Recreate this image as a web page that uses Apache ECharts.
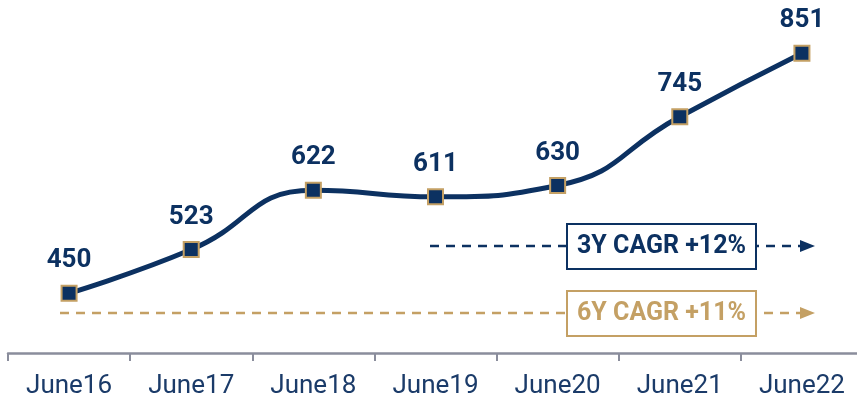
<!DOCTYPE html>
<html>
<head>
<meta charset="utf-8">
<script src="https://cdn.jsdelivr.net/npm/echarts@6/dist/echarts.min.js"></script>
<style>
  html, body { margin: 0; padding: 0; background: #fff; overflow: hidden; }
  #chart { width: 870px; height: 400px; }
</style>
</head>
<body>
<div id="chart"></div>
<script>
// data
const categories = ['June16', 'June17', 'June18', 'June19', 'June20', 'June21', 'June22']
const values = [450, 523, 622, 611, 630, 745, 851]
const cagrLabels = ['3Y CAGR +12%', '6Y CAGR +11%']

const navy = '#0c3161'
const gold = '#c4a064'

// chart is a little wider than the window, the last category runs off the edge
const chart = echarts.init(document.getElementById('chart'))

// dashed arrow with a boxed label on top of it
function cagrArrow(x1, x2, y, boxX, text, color) {
  return [
    {
      type: 'line',
      shape: { x1: x1, y1: y, x2: x2 - 14, y2: y },
      style: { stroke: color, lineWidth: 2.5, lineDash: [9, 7] },
      z: 10
    },
    {
      type: 'polygon',
      shape: { points: [[x2 - 15, y - 6], [x2, y], [x2 - 15, y + 6]] },
      style: { fill: color },
      z: 10
    },
    {
      type: 'rect',
      shape: { x: boxX, y: y - 22, width: 189, height: 45 },
      style: { fill: '#fff', stroke: color, lineWidth: 2 },
      z: 11
    },
    {
      type: 'text',
      x: boxX + 94.5,
      y: y + 1,
      style: {
        text: text,
        fill: color,
        font: 'bold 25px Roboto',
        align: 'center',
        verticalAlign: 'middle'
      },
      z: 12
    }
  ]
}

const option = {
  animation: false,
  grid: { left: 8, right: 7, top: 24, bottom: 47, containLabel: false },
  xAxis: {
    type: 'category',
    data: categories,
    boundaryGap: true,
    axisLine: { lineStyle: { color: '#8a8d9c', width: 2.5 } },
    axisTick: { show: true, length: 8, lineStyle: { color: '#8a8d9c', width: 2 } },
    axisLabel: {
      color: '#1b3b69',
      fontFamily: 'Roboto',
      fontSize: 26,
      margin: 20
    }
  },
  yAxis: {
    type: 'value',
    min: 350,
    max: 900,
    show: false,
    splitLine: { show: false }
  },
  series: [
    {
      type: 'line',
      data: values,
      smooth: 0.5,
      symbol: 'rect',
      symbolSize: 15,
      lineStyle: { color: navy, width: 5 },
      itemStyle: { color: navy, borderColor: gold, borderWidth: 2 },
      label: {
        show: true,
        position: 'top',
        distance: 11,
        color: navy,
        fontFamily: 'Roboto',
        fontWeight: 'bold',
        fontSize: 26
      },
      z: 5
    }
  ],
  graphic: [].concat(
    cagrArrow(430, 815, 246, 567, cagrLabels[0], navy),
    cagrArrow(60, 815, 313, 567, cagrLabels[1], gold)
  )
}

chart.setOption(option)
</script>
</body>
</html>
